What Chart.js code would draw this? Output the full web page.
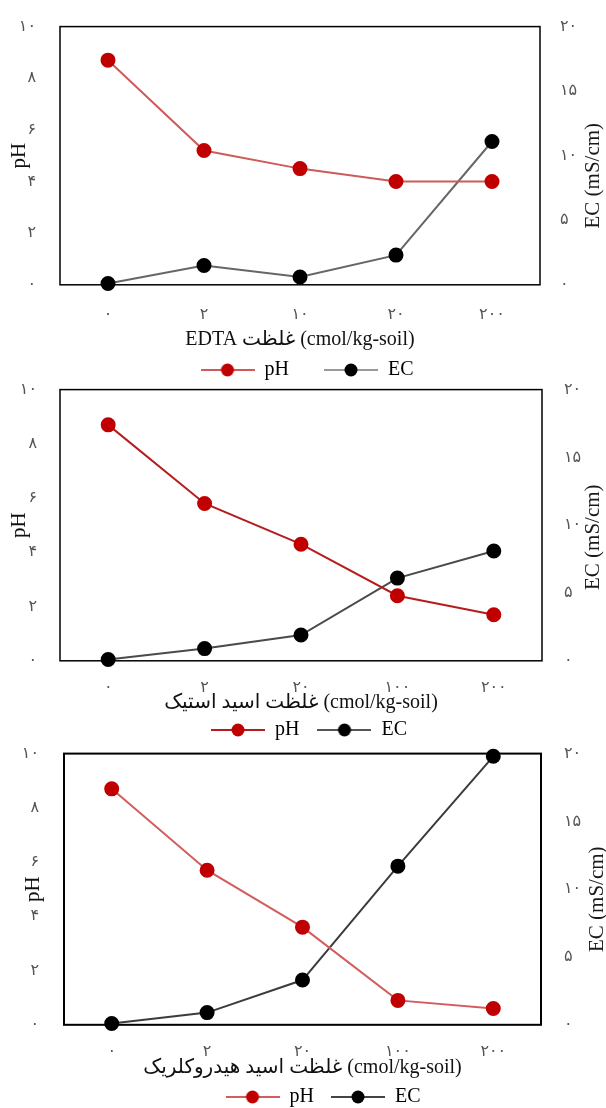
<!DOCTYPE html>
<html>
<head>
<meta charset="utf-8">
<script src="https://cdn.jsdelivr.net/npm/chart.js@4.4.1/dist/chart.umd.min.js"></script>
<style>
  html, body { margin: 0; padding: 0; background: #fff; overflow: hidden; width: 606px; height: 1108px; }
  .box { position: absolute; left: 0; }
</style>
</head>
<body>
<div class="box" style="top:-7px;width:614px;height:397px"><canvas id="c1"></canvas></div>
<div class="box" style="top:357px;width:618px;height:393px"><canvas id="c2"></canvas></div>
<div class="box" style="top:719px;width:646px;height:398px"><canvas id="c3"></canvas></div>
<script>
// x tick labels (doses)
const edtaDoses = ['۰', '۲', '۱۰', '۲۰', '۲۰۰'];
const acidDoses = ['۰', '۲', '۲۰', '۱۰۰', '۲۰۰'];

// EDTA
const phEdta = [8.7, 5.2, 4.5, 4.0, 4.0];
const ecEdta = [0.1, 1.5, 0.6, 2.3, 11.1];
// acetic acid
const phAcetic = [8.7, 5.8, 4.3, 2.4, 1.7];
const ecAcetic = [0.1, 0.9, 1.9, 6.1, 8.1];
// hydrochloric acid
const phHcl = [8.7, 5.7, 3.6, 0.9, 0.6];
const ecHcl = [0.1, 0.9, 3.3, 11.7, 19.8];

const SERIF = "'Liberation Serif', 'Times New Roman', 'DejaVu Sans', serif";
const DIGITS = "'DejaVu Sans', sans-serif";
const fa = n => String(n).replace(/\d/g, d => '۰۱۲۳۴۵۶۷۸۹'[d]);

// line + dot legend marker
function marker(lineColor, dotColor) {
  const c = document.createElement('canvas');
  c.width = 54; c.height = 16;
  const g = c.getContext('2d');
  g.strokeStyle = lineColor; g.lineWidth = 2;
  g.beginPath(); g.moveTo(0, 8); g.lineTo(54, 8); g.stroke();
  g.fillStyle = dotColor;
  g.beginPath(); g.arc(27, 8, 6.5, 0, Math.PI * 2); g.fill();
  return c;
}

// box around the plot area
const framePlugin = {
  id: 'frame',
  beforeDatasetsDraw(chart, args, opts) {
    const { left, top, width, height } = chart.chartArea;
    const ctx = chart.ctx;
    ctx.save();
    ctx.strokeStyle = '#000';
    ctx.lineWidth = opts.lineWidth;
    ctx.strokeRect(left, top, width, height);
    ctx.restore();
  }
};

// right axis title, reading bottom-to-top like the left one
const ecTitlePlugin = {
  id: 'ecTitle',
  afterDraw(chart, args, opts) {
    const s = chart.scales.y1, a = chart.chartArea, ctx = chart.ctx;
    ctx.save();
    ctx.translate(s.right - opts.offset, (a.top + a.bottom) / 2 + opts.dy);
    ctx.rotate(-Math.PI / 2);
    ctx.font = `21px ${SERIF}`;
    ctx.fillStyle = '#1a1a1a';
    ctx.textAlign = 'center';
    ctx.textBaseline = 'middle';
    ctx.fillText('EC (mS/cm)', 0, 0);
    ctx.restore();
  }
};

function buildChart(id, cfg) {
  const ctx = document.getElementById(id).getContext('2d');
  return new Chart(ctx, {
    type: 'line',
    data: {
      labels: cfg.labels,
      datasets: [
        {
          label: 'pH',
          data: cfg.ph,
          yAxisID: 'y',
          borderColor: cfg.phLine,
          backgroundColor: '#c00000',
          pointBackgroundColor: '#c00000',
          pointBorderColor: '#c00000',
          borderWidth: 2,
          pointRadius: 6.5,
          pointHoverRadius: 6.5,
          tension: 0,
          clip: false,
          marker: marker(cfg.phLine, '#c00000'),
        },
        {
          label: 'EC',
          data: cfg.ec,
          yAxisID: 'y1',
          borderColor: cfg.ecLine,
          backgroundColor: '#000',
          pointBackgroundColor: '#000',
          pointBorderColor: '#000',
          borderWidth: 2,
          pointRadius: 6.5,
          pointHoverRadius: 6.5,
          tension: 0,
          clip: false,
          marker: marker(cfg.ecLegend, '#000'),
        },
      ],
    },
    options: {
      responsive: true,
      maintainAspectRatio: false,
      animation: false,
      layout: { padding: 0 },
      scales: {
        x: {
          offset: true,
          grid: { display: false, drawTicks: false },
          border: { display: false },
          ticks: { color: '#555', padding: cfg.xTickPad, font: { family: DIGITS, size: 16 } },
          title: {
            display: true,
            text: cfg.xTitle,
            color: '#111',
            font: { family: SERIF, size: 20 },
            padding: cfg.xTitlePad,
          },
        },
        y: {
          position: 'left',
          min: 0, max: 10,
          afterFit: s => { s.width = cfg.areaLeft; },
          grid: { display: false, drawTicks: false },
          border: { display: false },
          ticks: {
            stepSize: 2, color: '#555', padding: cfg.yTickPad,
            font: { family: DIGITS, size: 16 },
            callback: v => fa(v),
          },
          title: {
            display: true, text: 'pH', color: '#111',
            font: { family: SERIF, size: 21 },
            padding: { top: cfg.phTitlePad, bottom: 0 },
          },
        },
        y1: {
          position: 'right',
          min: 0, max: 20,
          afterFit: s => { s.width = cfg.width - cfg.areaRight; },
          grid: { display: false, drawTicks: false },
          border: { display: false },
          ticks: {
            stepSize: 5, color: '#555', padding: cfg.y1TickPad,
            font: { family: DIGITS, size: 16 },
            callback: v => fa(v),
          },
        },
      },
      plugins: {
        frame: { lineWidth: cfg.frameWidth },
        ecTitle: { offset: cfg.ecOffset, dy: cfg.ecDy },
        tooltip: { enabled: false },
        legend: {
          position: 'bottom',
          labels: {
            usePointStyle: true,
            pointStyleWidth: 54,
            padding: cfg.legendPad,
            color: '#000',
            font: { family: SERIF, size: 20 },
            generateLabels: chart => chart.data.datasets.map((ds, i) => ({
              text: ds.label,
              pointStyle: ds.marker,
              fillStyle: 'transparent',
              strokeStyle: 'transparent',
              lineWidth: 0,
              fontColor: '#000',
              hidden: false,
              datasetIndex: i,
            })),
          },
        },
      },
    },
    plugins: [framePlugin, ecTitlePlugin],
  });
}

buildChart('c1', {
  labels: edtaDoses, ph: phEdta, ec: ecEdta,
  phLine: '#cf5a5a', ecLine: '#666', ecLegend: '#999',
  xTitle: 'EDTA غلظت (cmol/kg-soil)',
  width: 614, areaLeft: 60, areaRight: 540,
  yTickPad: 24, y1TickPad: 20, xTickPad: 20,
  xTitlePad: { top: -16, bottom: -27 }, legendPad: 35,
  phTitlePad: 7, ecOffset: 21, ecDy: 20, frameWidth: 1.5,
});

buildChart('c2', {
  labels: acidDoses, ph: phAcetic, ec: ecAcetic,
  phLine: '#b51d1d', ecLine: '#4a4a4a', ecLegend: '#555',
  xTitle: 'غلظت اسید استیک (cmol/kg-soil)',
  width: 618, areaLeft: 60, areaRight: 542,
  yTickPad: 23, y1TickPad: 22, xTickPad: 17,
  xTitlePad: { top: -23, bottom: -13 }, legendPad: 18,
  phTitlePad: 7, ecOffset: 25, ecDy: 12, frameWidth: 1.5,
});

buildChart('c3', {
  labels: acidDoses, ph: phHcl, ec: ecHcl,
  phLine: '#d35c5c', ecLine: '#3c3c3c', ecLegend: '#444',
  xTitle: 'غلظت اسید هیدروکلریک (cmol/kg-soil)',
  width: 646, areaLeft: 64, areaRight: 541,
  yTickPad: 25, y1TickPad: 23, xTickPad: 17,
  xTitlePad: { top: -22, bottom: -10 }, legendPad: 17,
  phTitlePad: 21, ecOffset: 49, ecDy: 10, frameWidth: 2,
});
</script>
</body>
</html>
